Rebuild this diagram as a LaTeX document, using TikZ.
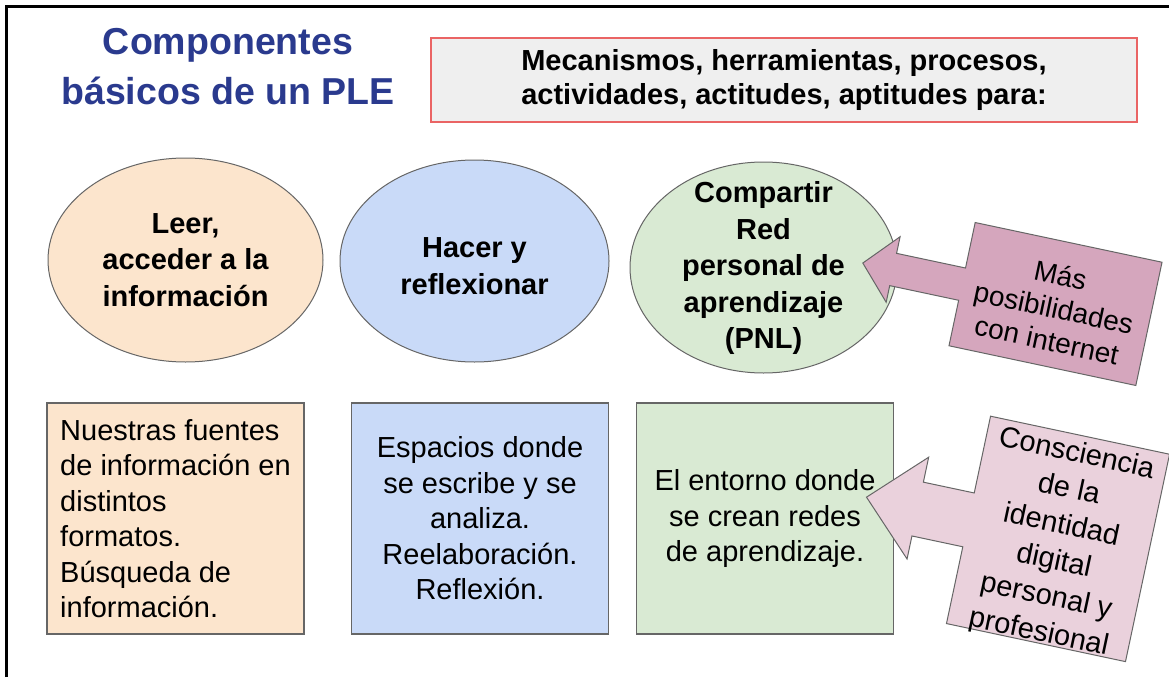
\documentclass[tikz,border=0pt]{standalone}
\usepackage{fontspec}
\setmainfont{Liberation Sans}
\usetikzlibrary{shapes.geometric}
\definecolor{titleblue}{RGB}{42,58,142}
\definecolor{redline}{HTML}{EA6464}
\definecolor{graybg}{HTML}{EFEFEF}
\definecolor{edgegray}{HTML}{666666}
\definecolor{orangefill}{HTML}{FCE5CD}
\definecolor{bluefill}{HTML}{C9DAF8}
\definecolor{greenfill}{HTML}{D9EAD3}
\definecolor{pinkA}{HTML}{D5A6BD}
\definecolor{pinkB}{HTML}{EAD1DC}
\begin{document}
\begin{tikzpicture}[x=1pt,y=-1pt,
  ell/.style={ellipse, draw=edgegray, line width=1pt, inner sep=0pt},
  etext/.style={font=\bfseries\fontsize{29}{36.5}\selectfont, align=center, inner sep=0pt},
  cbox/.style={rectangle, draw=edgegray, line width=1.3pt, minimum width=257pt, minimum height=231pt, font=\fontsize{29}{35.5}\selectfont, inner sep=0pt},
  calloutshape/.style={draw=edgegray, line width=1pt, line join=miter},
  ctext/.style={align=center, inner sep=0pt, transform shape},
]
\useasboundingbox (0,0) rectangle (1169,677);
\fill[white] (0,0) rectangle (1169,677);
% frame
\draw[line width=3.5pt, line join=miter] (6.5,677) -- (6.5,6.5) -- (1169,6.5);
% title
\node[font=\bfseries\fontsize{37.5}{50}\selectfont, text=titleblue, align=center, inner sep=0pt] (title) at (228,66.5) {Componentes\\básicos de un PLE};
% top box
\node[draw=redline, fill=graybg, line width=1.3pt, minimum width=706pt, minimum height=84pt, inner sep=0pt,
      font=\bfseries\fontsize{29}{34}\selectfont, align=center] (top) at (784,80)
  {Mecanismos, herramientas, procesos,\\actividades, actitudes, aptitudes para:};
% ellipses
\node[ell, fill=orangefill, minimum width=275pt, minimum height=204pt] (e1) at (185.5,260) {};
\node[ell, fill=bluefill, minimum width=269pt, minimum height=202pt] (e2) at (474.5,261) {};
\node[ell, fill=greenfill, minimum width=267pt, minimum height=211pt] (e3) at (763.5,267.5) {};
\node[etext] (t1) at (185.5,260) {Leer,\\acceder a la\\información};
\node[etext] (t2) at (474.5,266) {Hacer y\\reflexionar};
\node[etext] (t3) at (763.5,268) {Compartir\\Red\\personal de\\aprendizaje\\(PNL)};
% boxes
\node[cbox, fill=orangefill, align=left] (b1) at (175.5,518.5)
  {Nuestras fuentes\\de información en\\distintos\\formatos.\\Búsqueda de\\información.};
\node[cbox, fill=bluefill, align=center] (b2) at (480,518.5)
  {Espacios donde\\se escribe y se\\analiza.\\Reelaboración.\\Reflexión.};
\node[cbox, fill=greenfill, align=center] (b3) at (765,518.5)
  {El entorno donde\\se crean redes\\de aprendizaje.};
% callout 1
\begin{scope}[shift={(1055.5,304)}, rotate=-12]
\draw[calloutshape, fill=pinkA] (-95.5,-63) -- (95.5,-63) -- (95.5,63) -- (-95.5,63) -- (-95.5,16.5) -- (-166,16.5) -- (-166,33.5) -- (-197,0) -- (-166,-33.5) -- (-166,-16.5) -- (-95.5,-16.5) -- cycle;
\node[ctext, font=\fontsize{28}{33}\selectfont] (c1) at (-1,4) {Más\\posibilidades\\con internet};
\end{scope}
% callout 2
\begin{scope}[shift={(1058.5,539)}, rotate=-12]
\draw[calloutshape, fill=pinkB] (-92,-106) -- (91,-106) -- (91,106) -- (-92,106) -- (-92,27.5) -- (-144,27.5) -- (-144,51) -- (-196.5,-1) -- (-144,-53) -- (-144,-27.5) -- (-92,-27.5) -- cycle;
\node[ctext, font=\fontsize{29}{36.5}\selectfont] (c2) at (0,5) {Consciencia\\de la\\identidad\\digital\\personal y\\profesional};
\end{scope}
\end{tikzpicture}
\end{document}
